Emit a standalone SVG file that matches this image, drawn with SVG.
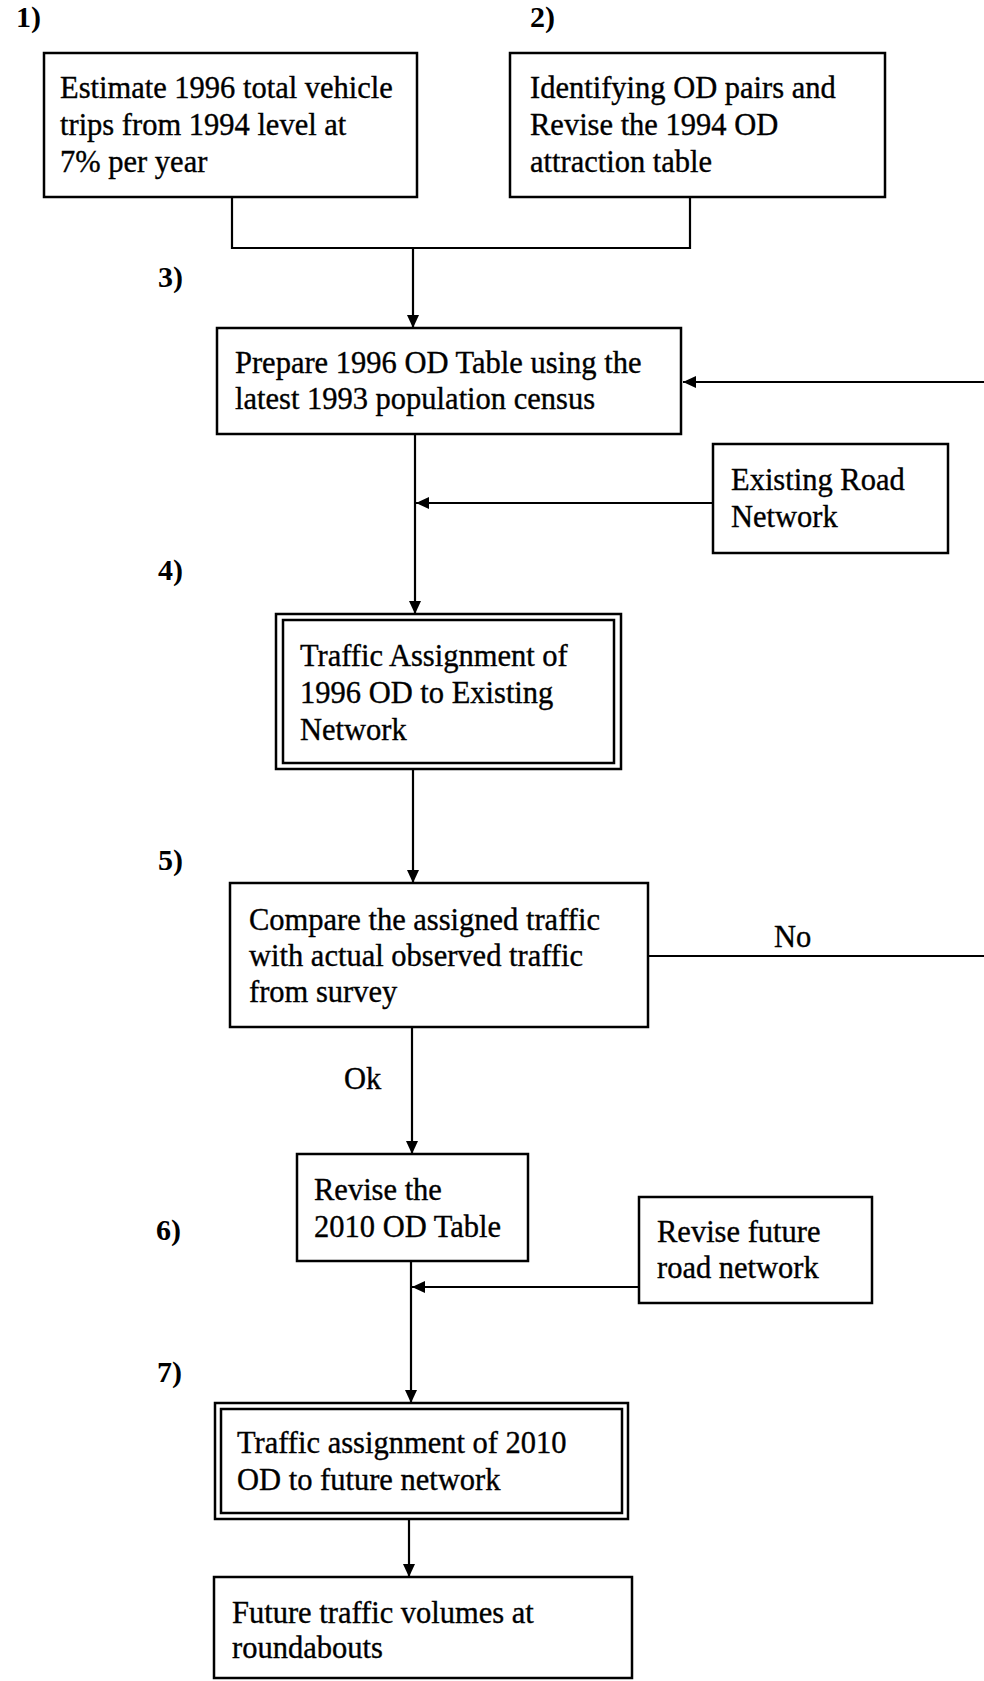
<svg xmlns="http://www.w3.org/2000/svg" width="984" height="1681" viewBox="0 0 984 1681">
<defs>
<style>
.box{fill:#fff;stroke:#000;stroke-width:2.5}
.t{font-family:"Liberation Serif","Times New Roman",serif;font-size:30.5px;fill:#000;stroke:#000;stroke-width:0.35}
.n{font-family:"Liberation Serif","Times New Roman",serif;font-size:30px;font-weight:bold;fill:#000}
.c{fill:none;stroke:#000;stroke-width:2.2}
</style>
<marker id="ah" markerWidth="14" markerHeight="14" refX="13" refY="7" orient="auto" markerUnits="userSpaceOnUse">
<path d="M0,1 L13,7 L0,13 Z" fill="#000"/>
</marker>
</defs>
<rect width="984" height="1681" fill="#fff"/>
<g id="labels">
<text class="n" x="16" y="27">1)</text>
<text class="n" x="530" y="27">2)</text>
<text class="n" x="158" y="287">3)</text>
<text class="n" x="158" y="580">4)</text>
<text class="n" x="158" y="870">5)</text>
<text class="n" x="156" y="1240">6)</text>
<text class="n" x="157" y="1382">7)</text>
</g>
<g id="connectors">
<path class="c" d="M232 197 V248 H690 V197"/>
<path class="c" d="M413 248 V328" marker-end="url(#ah)"/>
<path class="c" d="M984 382 H683" marker-end="url(#ah)"/>
<path class="c" d="M415 434 V614" marker-end="url(#ah)"/>
<path class="c" d="M713 503 H416" marker-end="url(#ah)"/>
<path class="c" d="M413 769 V883" marker-end="url(#ah)"/>
<path class="c" d="M648 956 H984"/>
<path class="c" d="M412 1027 V1154" marker-end="url(#ah)"/>
<path class="c" d="M639 1287 H412" marker-end="url(#ah)"/>
<path class="c" d="M411 1261 V1403" marker-end="url(#ah)"/>
<path class="c" d="M409 1519 V1577" marker-end="url(#ah)"/>
<text class="t" x="774" y="947">No</text>
<text class="t" x="344" y="1089">Ok</text>
</g>
<g id="n1">
<rect class="box" x="44" y="53" width="373" height="144"/>
<text class="t" x="60" y="98">Estimate 1996 total vehicle</text>
<text class="t" x="60" y="135">trips from 1994 level at</text>
<text class="t" x="60" y="172">7% per year</text>
</g>
<g id="n2">
<rect class="box" x="510" y="53" width="375" height="144"/>
<text class="t" x="530" y="98">Identifying OD pairs and</text>
<text class="t" x="530" y="135">Revise the 1994 OD</text>
<text class="t" x="530" y="172">attraction table</text>
</g>
<g id="n3">
<rect class="box" x="217" y="328" width="464" height="106"/>
<text class="t" x="235" y="373">Prepare 1996 OD Table using the</text>
<text class="t" x="235" y="409">latest 1993 population census</text>
</g>
<g id="existing">
<rect class="box" x="713" y="444" width="235" height="109"/>
<text class="t" x="731" y="490">Existing Road</text>
<text class="t" x="731" y="527">Network</text>
</g>
<g id="n4">
<rect class="box" x="276" y="614" width="345" height="155"/>
<rect class="box" x="283" y="620" width="331" height="143"/>
<text class="t" x="300" y="666">Traffic Assignment of</text>
<text class="t" x="300" y="703">1996 OD to Existing</text>
<text class="t" x="300" y="740">Network</text>
</g>
<g id="n5">
<rect class="box" x="230" y="883" width="418" height="144"/>
<text class="t" x="249" y="930">Compare the assigned traffic</text>
<text class="t" x="249" y="966">with actual observed traffic</text>
<text class="t" x="249" y="1002">from survey</text>
</g>
<g id="n6">
<rect class="box" x="297" y="1154" width="231" height="107"/>
<text class="t" x="314" y="1200">Revise the</text>
<text class="t" x="314" y="1237">2010 OD Table</text>
</g>
<g id="future">
<rect class="box" x="639" y="1197" width="233" height="106"/>
<text class="t" x="657" y="1242">Revise future</text>
<text class="t" x="657" y="1278">road network</text>
</g>
<g id="n7">
<rect class="box" x="215" y="1403" width="413" height="116"/>
<rect class="box" x="221" y="1409" width="401" height="104"/>
<text class="t" x="237" y="1453">Traffic assignment of 2010</text>
<text class="t" x="237" y="1490">OD to future network</text>
</g>
<g id="n8">
<rect class="box" x="214" y="1577" width="418" height="101"/>
<text class="t" x="232" y="1623">Future traffic volumes at</text>
<text class="t" x="232" y="1658">roundabouts</text>
</g>
</svg>
